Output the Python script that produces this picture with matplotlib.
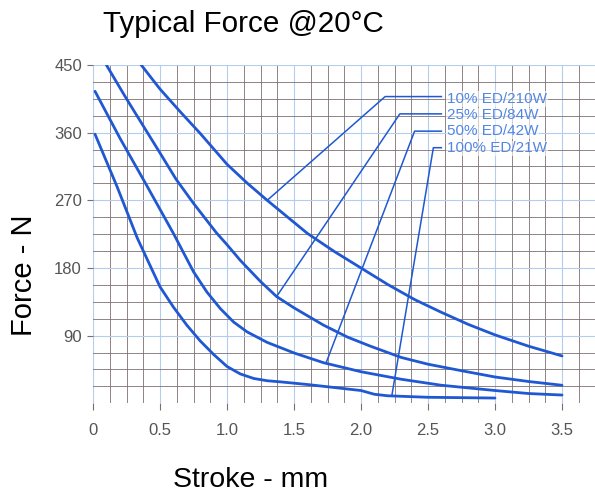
import matplotlib
matplotlib.use("Agg")
import matplotlib.pyplot as plt
from matplotlib.ticker import FixedLocator, MultipleLocator

plt.rcParams['font.family'] = ['Liberation Sans', 'DejaVu Sans']

# ---- data ----
x_ticks = [0, 0.5, 1.0, 1.5, 2.0, 2.5, 3.0, 3.5]
x_tick_labels = ["0", "0.5", "1.0", "1.5", "2.0", "2.5", "3.0", "3.5"]
y_ticks = [90, 180, 270, 360, 450]
y_tick_labels = ["90", "180", "270", "360", "450"]

# 10% ED/210W
a_x = [0.36, 0.50, 0.65, 0.80, 1.00, 1.15, 1.30, 1.45, 1.60, 1.80, 2.00, 2.20,
       2.40, 2.60, 2.80, 3.00, 3.25, 3.50]
a_y = [450, 418, 388, 359, 318, 293, 270, 248, 226, 202, 180, 158,
       138, 121, 105, 91, 76, 63]
# 25% ED/84W
b_x = [0.10, 0.25, 0.375, 0.50, 0.62, 0.75, 0.92, 1.00, 1.10, 1.25, 1.37, 1.50,
       1.72, 1.90, 2.07, 2.30, 2.50, 2.76, 3.00, 3.25, 3.50]
b_y = [450, 405, 369, 333, 298, 266, 227, 211, 190, 162, 142, 127,
       104, 88, 76, 61, 52, 43, 35, 29, 24]
# 50% ED/42W
c_x = [0.015, 0.20, 0.40, 0.60, 0.75, 0.85, 0.95, 1.05, 1.15, 1.30, 1.50, 1.72,
       2.00, 2.30, 2.60, 3.00, 3.25, 3.50]
c_y = [415, 353, 290, 226, 175, 148, 126, 108, 95, 81, 67, 54,
       42, 32, 24, 17, 13, 11]
# 100% ED/21W
d_x = [0.015, 0.18, 0.33, 0.50, 0.60, 0.70, 0.80, 0.90, 1.00, 1.10, 1.20, 1.30,
       1.40, 1.60, 1.80, 2.00, 2.10, 2.20, 2.50, 3.00]
d_y = [358, 288, 220, 155, 128, 104, 83, 65, 49, 39, 33, 30,
       28.5, 25, 21, 17, 12, 10, 8, 7]

labels = ["10% ED/210W", "25% ED/84W", "50% ED/42W", "100% ED/21W"]
# leader lines: start on curve -> elbow -> end at label
lead_x = [[1.30, 2.18, 2.60], [1.37, 2.29, 2.60], [1.74, 2.40, 2.60], [2.23, 2.54, 2.60]]
lead_y = [[270, 408, 408], [142, 385, 385], [54, 362, 362], [10, 340, 340]]
label_x = 2.64
label_y = [405, 383, 362, 339]

curve_color = '#1f58d2'
label_color = '#5286e3'

fig = plt.figure(figsize=(5.95, 4.93), dpi=100)
W, H = 595.0, 493.0
x0px, x1px = 93.0, 595.5
ytop, ybot = 65.0, 403.3
ax = fig.add_axes([x0px / W, (H - ybot) / H, (x1px - x0px) / W, (ybot - ytop) / H])
ax.set_xlim(0, 3.75)
ax.set_ylim(0, 450)

for s in ax.spines.values():
    s.set_visible(False)

ax.xaxis.set_major_locator(FixedLocator(x_ticks))
ax.set_xticklabels(x_tick_labels)
ax.yaxis.set_major_locator(FixedLocator(y_ticks))
ax.set_yticklabels(y_tick_labels)
ax.xaxis.set_minor_locator(MultipleLocator(0.125))
ax.yaxis.set_minor_locator(MultipleLocator(22.5))

ax.grid(True, which='major', color='#b3cdf0', linewidth=0.8)
ax.grid(True, which='minor', color='#7c7071', linewidth=0.6)
ax.set_axisbelow(True)

ax.tick_params(which='minor', length=0)
ax.tick_params(which='major', direction='out', color='#7a6f70', width=0.8,
               labelcolor='#555555', labelsize=12)
ax.tick_params(axis='x', which='major', length=5, pad=9)
ax.tick_params(axis='y', which='major', length=4, pad=4)

for xs, ys in [(a_x, a_y), (b_x, b_y), (c_x, c_y), (d_x, d_y)]:
    ax.plot(xs, ys, color=curve_color, linewidth=2.0, solid_capstyle='round',
            solid_joinstyle='round', zorder=3)

for lx, ly in zip(lead_x, lead_y):
    ax.plot(lx, ly, color=curve_color, linewidth=1.1, zorder=3)

for lab, yy in zip(labels, label_y):
    ax.text(label_x, yy, lab, color=label_color, fontsize=11, va='center', ha='left',
            zorder=4, bbox=dict(facecolor='white', edgecolor='none', pad=0.5, alpha=0.6))

fig.text(243 / W, 1 - 31.7 / H, "Typical Force @20°C", fontsize=21.3, ha='center',
         va='baseline', color='black')
fig.text(251 / W, 1 - 487 / H, "Stroke - mm", fontsize=20.5, ha='center',
         va='baseline', color='black')
fig.text(24 / W, 1 - 275 / H, "Force - N", fontsize=21, ha='center', va='center',
         rotation=90, color='black')

fig.savefig("out.png", dpi=100)
